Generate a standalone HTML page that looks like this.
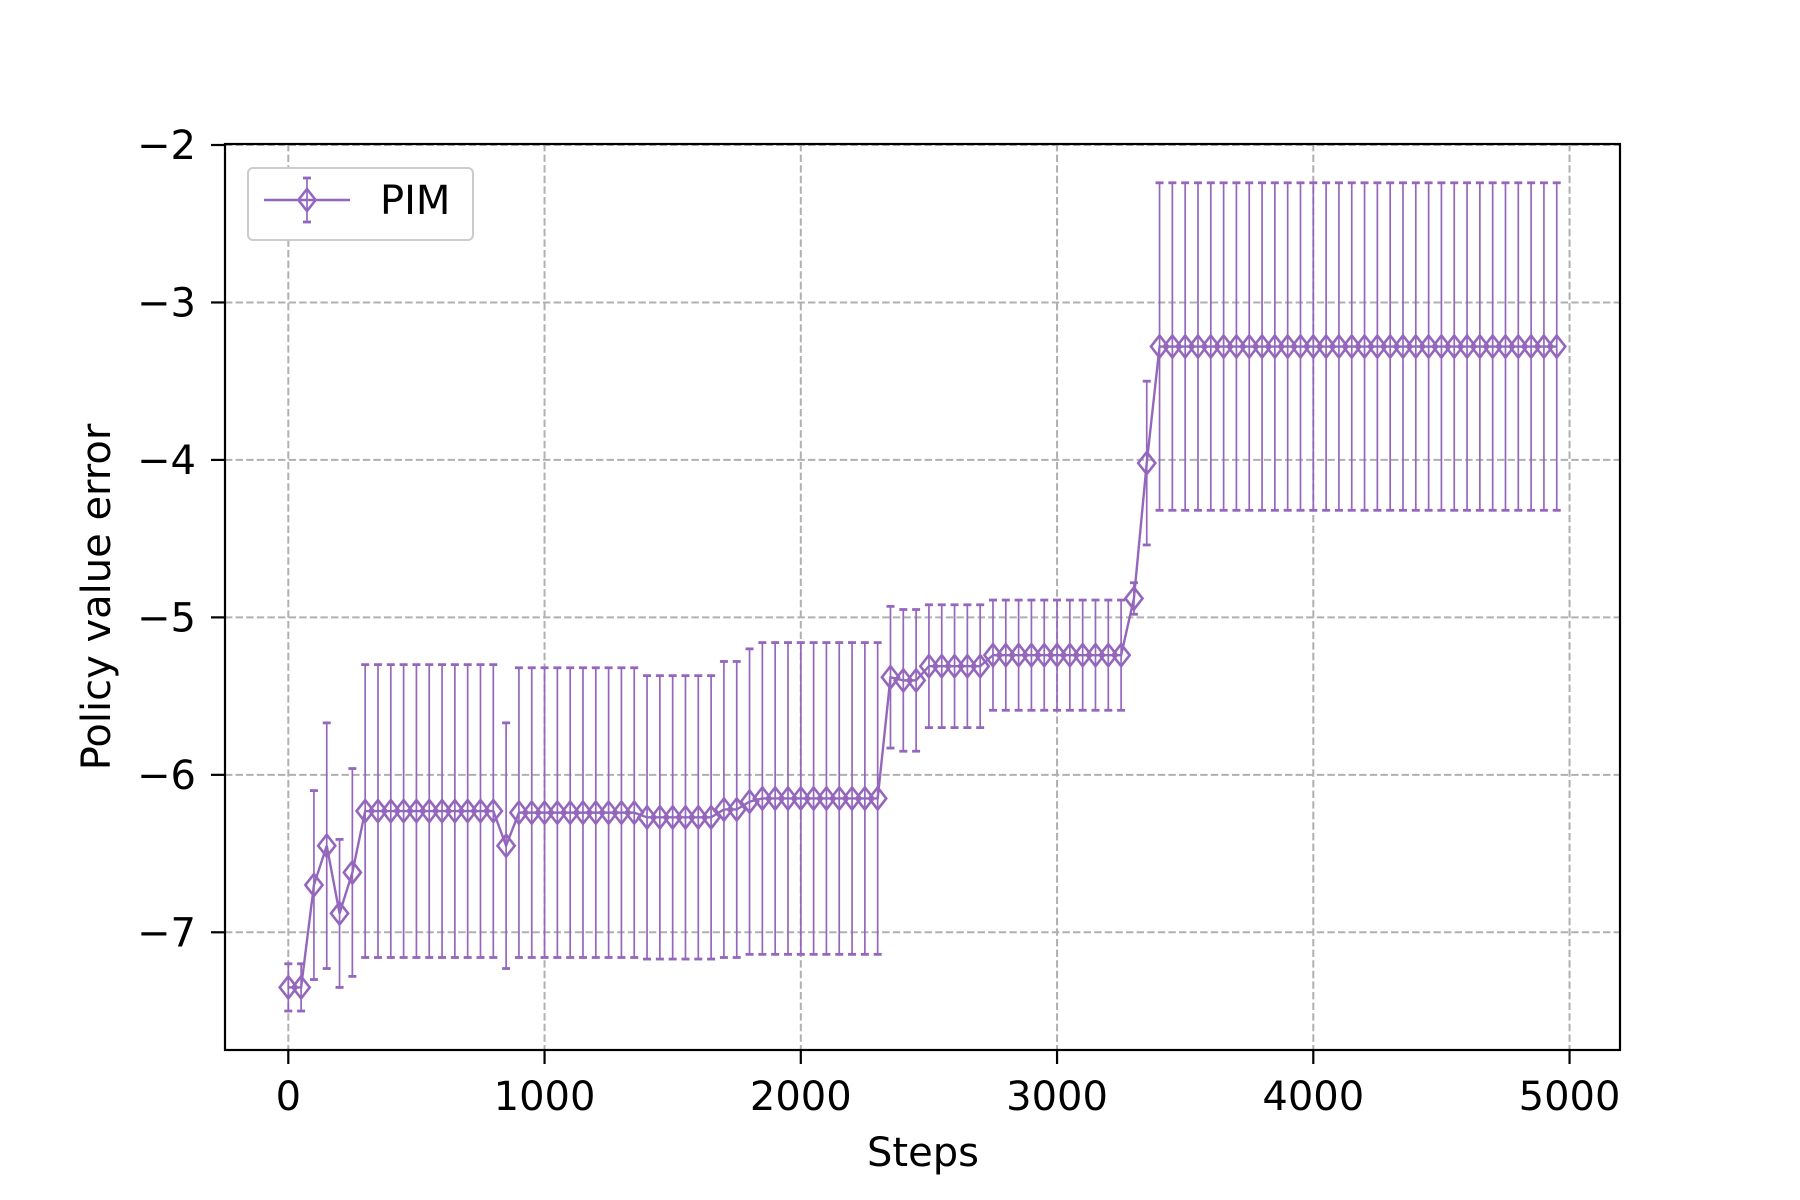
<!DOCTYPE html>
<html><head><meta charset="utf-8"><style>
html,body{margin:0;padding:0;background:#fff;}
svg{display:block;font-family:"DejaVu Sans","Liberation Sans",sans-serif;}
</style></head><body>
<svg id="chart" width="1800" height="1200" viewBox="0 0 1800 1200"></svg>
<script>
const steps = [];
for (let i = 0; i < 100; i++) steps.push(i * 50);
const means = [-7.35,-7.35,-6.7,-6.45,-6.88,-6.62,
 -6.23,-6.23,-6.23,-6.23,-6.23,-6.23,-6.23,-6.23,-6.23,-6.23,-6.23,
 -6.45,
 -6.24,-6.24,-6.24,-6.24,-6.24,-6.24,-6.24,-6.24,-6.24,-6.24,
 -6.27,-6.27,-6.27,-6.27,-6.27,-6.27,
 -6.22,-6.22,-6.17,
 -6.15,-6.15,-6.15,-6.15,-6.15,-6.15,-6.15,-6.15,-6.15,-6.15,
 -5.38,-5.4,-5.4,
 -5.31,-5.31,-5.31,-5.31,-5.31,
 -5.24,-5.24,-5.24,-5.24,-5.24,-5.24,-5.24,-5.24,-5.24,-5.24,-5.24,
 -4.88,-4.02,
 -3.28,-3.28,-3.28,-3.28,-3.28,-3.28,-3.28,-3.28,-3.28,-3.28,-3.28,-3.28,-3.28,-3.28,-3.28,-3.28,
 -3.28,-3.28,-3.28,-3.28,-3.28,-3.28,-3.28,-3.28,-3.28,-3.28,-3.28,-3.28,-3.28,-3.28,-3.28,-3.28];
const errs = [0.15,0.15,0.6,0.78,0.47,0.66,
 0.93,0.93,0.93,0.93,0.93,0.93,0.93,0.93,0.93,0.93,0.93,
 0.78,
 0.92,0.92,0.92,0.92,0.92,0.92,0.92,0.92,0.92,0.92,
 0.9,0.9,0.9,0.9,0.9,0.9,
 0.94,0.94,0.97,
 0.99,0.99,0.99,0.99,0.99,0.99,0.99,0.99,0.99,0.99,
 0.45,0.45,0.45,
 0.39,0.39,0.39,0.39,0.39,
 0.35,0.35,0.35,0.35,0.35,0.35,0.35,0.35,0.35,0.35,0.35,
 0.1,0.52,
 1.04,1.04,1.04,1.04,1.04,1.04,1.04,1.04,1.04,1.04,1.04,1.04,1.04,1.04,1.04,1.04,
 1.04,1.04,1.04,1.04,1.04,1.04,1.04,1.04,1.04,1.04,1.04,1.04,1.04,1.04,1.04,1.04];
const xTicks = [0,1000,2000,3000,4000,5000];
const yTicks = [-2,-3,-4,-5,-6,-7];
const yTickLabels = ["\u22122","\u22123","\u22124","\u22125","\u22126","\u22127"];

const L=225,R=1620,T=144,B=1050;
const X=v=>288.3+v*0.25625;
const Y=v=>145+(-2-v)*157.46;
const C="#9467bd";
const FS=40;
const svg=document.getElementById('chart');
const NS="http://www.w3.org/2000/svg";
function mk(tag,attrs,parent){const e=document.createElementNS(NS,tag);for(const k in attrs)e.setAttribute(k,attrs[k]);(parent||svg).appendChild(e);return e;}

const grid=mk('g',{});


xTicks.forEach(t=>{mk('line',{x1:X(t),x2:X(t),y1:T,y2:B,stroke:'#b0b0b0','stroke-width':2,'stroke-dasharray':'7.4,3.2'},grid);});
yTicks.forEach(t=>{mk('line',{x1:L,x2:R,y1:Y(t),y2:Y(t),stroke:'#b0b0b0','stroke-width':2,'stroke-dasharray':'7.4,3.2'},grid);});

const series=mk('g',{});


steps.forEach((s,i)=>{
  const x=X(s),y1=Y(means[i]-errs[i]),y2=Y(means[i]+errs[i]);
  const eb=mk('g',{},series);
  
  
  mk('line',{x1:x,x2:x,y1:y1,y2:y2,stroke:C,'stroke-width':1.7},eb);
  mk('line',{x1:x-4,x2:x+4,y1:y1,y2:y1,stroke:C,'stroke-width':2.8},eb);
  mk('line',{x1:x-4,x2:x+4,y1:y2,y2:y2,stroke:C,'stroke-width':2.8},eb);
});
mk('polyline',{points:steps.map((s,i)=>X(s)+','+Y(means[i])).join(' '),fill:'none',stroke:C,'stroke-width':2.4},series);
steps.forEach((s,i)=>{
  const x=X(s),y=Y(means[i]),d=11;
  const m=mk('polygon',{points:`${x},${y-d} ${x+d*0.78},${y} ${x},${y+d} ${x-d*0.78},${y}`,fill:'none',stroke:C,'stroke-width':2.6},series);
  
  
});

const frame=mk('rect',{x:L,y:T,width:R-L,height:B-T,fill:'none',stroke:'#000','stroke-width':2.2});



const xa=mk('g',{});


xTicks.forEach(t=>{
  mk('line',{x1:X(t),x2:X(t),y1:B,y2:B+14,stroke:'#000','stroke-width':2.2},xa);
  const tx=mk('text',{x:X(t),y:1110,'font-size':FS,'text-anchor':'middle'},xa);tx.textContent=t;
});
const ya=mk('g',{});


yTicks.forEach((t,i)=>{
  mk('line',{x1:L-14,x2:L,y1:Y(t),y2:Y(t),stroke:'#000','stroke-width':2.2},ya);
  const tx=mk('text',{x:L-29,y:Y(t)+14,'font-size':FS,'text-anchor':'end'},ya);tx.textContent=yTickLabels[i];
});
const xl=mk('text',{x:923,y:1166,'font-size':FS,'text-anchor':'middle'});
xl.textContent='Steps';


const yl=mk('text',{x:0,y:0,'font-size':FS,'text-anchor':'middle',transform:'translate(110,597) rotate(-90)'});
yl.textContent='Policy value error';



const lg=mk('g',{});


mk('rect',{x:248,y:168,width:225,height:72,rx:5,fill:'#fff',stroke:'#ccc','stroke-width':2},lg);
mk('line',{x1:264,x2:350,y1:200,y2:200,stroke:C,'stroke-width':2.4},lg);
mk('line',{x1:307,x2:307,y1:178,y2:222,stroke:C,'stroke-width':1.7},lg);
mk('line',{x1:303,x2:311,y1:178,y2:178,stroke:C,'stroke-width':2.8},lg);
mk('line',{x1:303,x2:311,y1:222,y2:222,stroke:C,'stroke-width':2.8},lg);
mk('polygon',{points:'307,189 315.6,200 307,211 298.4,200',fill:'none',stroke:C,'stroke-width':2.6},lg);
const lt=mk('text',{x:380,y:214,'font-size':FS},lg);
lt.textContent='PIM';


</script>
</body></html>
